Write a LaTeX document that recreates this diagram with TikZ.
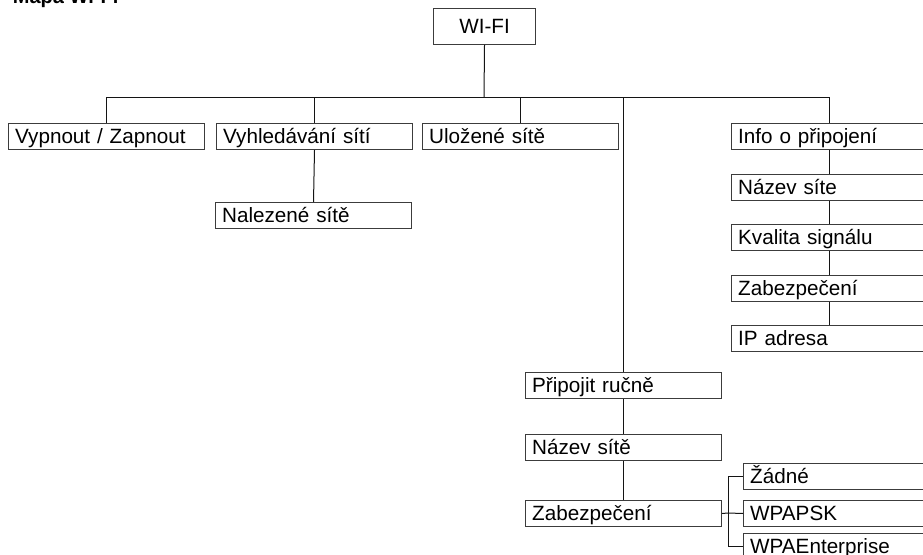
\documentclass[tikz,border=0pt]{standalone}
\usepackage{fontspec}
\setmainfont{Liberation Sans}
\definecolor{boxline}{RGB}{60, 60, 60}
\definecolor{wireline}{RGB}{20, 20, 20}
\usetikzlibrary{positioning}

\begin{document}
\begin{tikzpicture}[x=0.75pt, y=-0.75pt, line width=0.75pt,
  every node/.style={font=\fontsize{15.5pt}{18pt}\selectfont},
  item/.style={draw=boxline, anchor=north west, minimum height=19.5pt, inner xsep=5pt, inner ysep=0pt,
    text width=137pt, align=left, text height=11pt, text depth=0pt},
  wire/.style={draw=wireline}]
\useasboundingbox (0,0) rectangle (923,555);
\clip (0,0) rectangle (923,555);
% Title
\node[font=\bfseries\fontsize{15pt}{18pt}\selectfont, anchor=base west] (title) at (8,4) {Mapa Wi-Fi};
% Root
\node[draw=boxline, anchor=north west, minimum width=76.5pt, minimum height=27pt] (wifi) at (433,8) {WI-FI};
\coordinate (bus) at (484,98);
% First level
\node[item] (onoff) at (8,123) {Vypnout / Zapnout};
\node[item] (scan) at (216,123) {Vyhledávání sítí};
\node[item] (saved) at (422,123) {Uložené sítě};
\node[item] (info) at (731,123) {Info o připojení};
\node[item] (manual) at (525,372) {Připojit ručně};
% Scan results
\node[item] (found) at (215,202) {Nalezené sítě};
% Connection info
\node[item] (infoname) at (731,174) {Název síte};
\node[item] (infoqual) at (731,224) {Kvalita signálu};
\node[item] (infosec) at (731,275) {Zabezpečení};
\node[item] (infoip) at (731,325) {IP adresa};
% Manual connection
\node[item] (ssid) at (525,434) {Název sítě};
\node[item] (auth) at (525,500) {Zabezpečení};
\node[item] (none) at (743,463) {Žádné};
\node[item] (psk) at (743,500) {WPAPSK};
\node[item] (ent) at (743,533) {WPAEnterprise};
\coordinate (fork) at (728,513);
% Connectors
\draw[wire] (wifi.south) -- (bus);
\draw[wire] (onoff.north) -- (onoff.north |- bus) -- (info.north |- bus) -- (info.north);
\draw[wire] (scan.north) -- (scan.north |- bus);
\draw[wire] (saved.north) -- (saved.north |- bus);
\draw[wire] (manual.north) -- (manual.north |- bus);
\draw[wire] (scan.south) -- (found.north);
\draw[wire] (info.south) -- (infoname.north);
\draw[wire] (infoname.south) -- (infoqual.north);
\draw[wire] (infoqual.south) -- (infosec.north);
\draw[wire] (infosec.south) -- (infoip.north);
\draw[wire] (manual.south) -- (ssid.north);
\draw[wire] (ssid.south) -- (auth.north);
\draw[wire] (auth.east) -- (fork);
\draw[wire] (none.west) -| (fork);
\draw[wire] (psk.west) -- (fork);
\draw[wire] (ent.west) -| (fork);
\end{tikzpicture}
\end{document}
